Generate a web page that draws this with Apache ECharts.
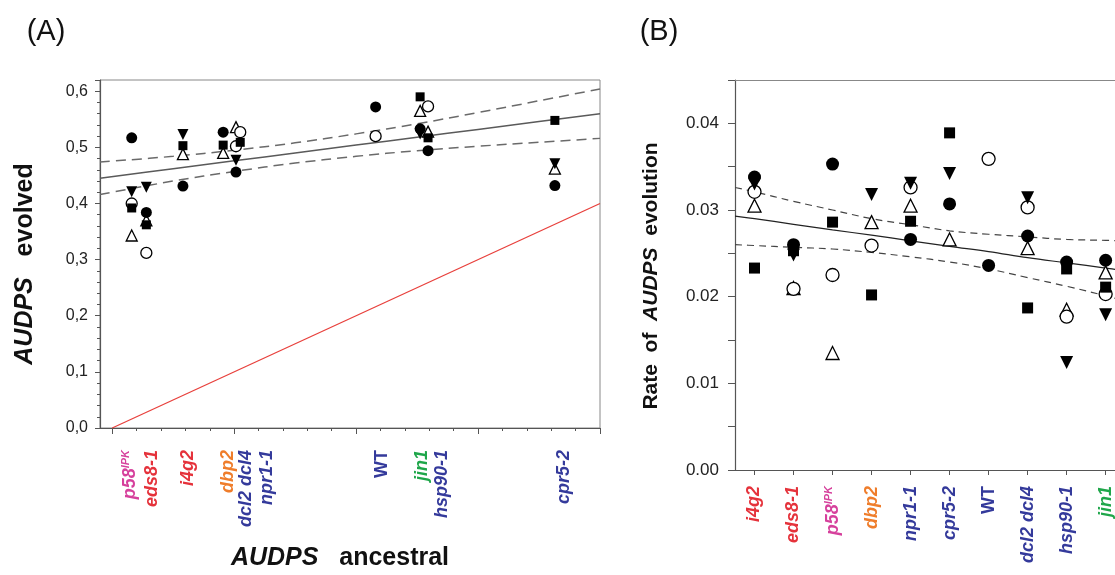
<!DOCTYPE html>
<html>
<head>
<meta charset="utf-8">
<script src="https://cdn.jsdelivr.net/npm/echarts@6/dist/echarts.min.js"></script>
<style>
  html, body { margin: 0; padding: 0; background: #fff; }
  #chart { width: 1115px; height: 575px; }
</style>
</head>
<body>
<div id="chart"></div>
<script>
// ---- Panel A: evolved vs ancestral AUDPS per genotype ----
const genotypes = ['p58IPK', 'eds8-1', 'i4g2', 'dbp2', 'dcl2 dcl4', 'npr1-1', 'WT', 'jin1', 'hsp90-1', 'cpr5-2'];
const ancestral = [0.016, 0.028, 0.058, 0.091, 0.1015, 0.105, 0.216, 0.2525, 0.259, 0.363];

// evolved AUDPS of the five evolved lineages (null = no visible mark)
const evolvedFilledCircle = [0.517, 0.384, 0.431, 0.527, 0.456, null, 0.572, 0.533, 0.494, 0.432];
const evolvedOpenCircle   = [0.400, 0.312, null, null, 0.502, 0.527, 0.520, null, 0.573, null];
const evolvedSquare       = [0.392, 0.362, 0.503, 0.504, null, 0.509, null, 0.590, 0.517, 0.548];
const evolvedTriDown      = [0.421, 0.429, 0.523, null, 0.477, null, null, 0.524, null, 0.471];
const evolvedTriUp        = [0.343, 0.370, 0.488, 0.490, 0.536, null, null, 0.565, 0.528, 0.462];

// regression line with 95% confidence band
const fitAX     = [-0.01, 0.05, 0.10, 0.15, 0.20, 0.25, 0.30, 0.35, 0.40];
const fitAMid   = [0.445, 0.462, 0.476, 0.490, 0.504, 0.518, 0.532, 0.546, 0.560];
const fitAUpper = [0.474, 0.484, 0.495, 0.508, 0.524, 0.542, 0.562, 0.583, 0.604];
const fitALower = [0.416, 0.440, 0.457, 0.472, 0.484, 0.494, 0.502, 0.509, 0.516];
// no-change reference (evolved = ancestral)
const equalityLine = [[0, 0], [0.4, 0.4]];

const yTicksA = [0, 0.1, 0.2, 0.3, 0.4, 0.5, 0.6];
const xMajorA = [0, 0.1, 0.2, 0.3, 0.4];
const xMinorA = [0.02, 0.04, 0.06, 0.08, 0.12, 0.14, 0.16, 0.18, 0.22, 0.24, 0.26, 0.28, 0.32, 0.34, 0.36, 0.38];

// ---- Panel B: rate of AUDPS evolution per genotype ----
const rateOrder = ['i4g2', 'eds8-1', 'p58IPK', 'dbp2', 'npr1-1', 'cpr5-2', 'WT', 'dcl2 dcl4', 'hsp90-1', 'jin1'];
const rateFilledCircle = [0.0338, 0.0260, 0.0353, null, 0.0266, 0.0307, 0.0236, 0.0270, 0.0240, 0.0242];
const rateOpenCircle   = [0.0321, 0.0209, 0.0225, 0.0259, 0.0326, null, 0.0359, 0.0303, 0.0177, 0.0203];
const rateSquare       = [0.0233, 0.0253, 0.0286, 0.0202, 0.0287, 0.0389, null, 0.0187, 0.0232, 0.0211];
const rateTriDown      = [0.0330, 0.0248, null, 0.0318, 0.0331, 0.0342, null, 0.0314, 0.0124, 0.0179];
const rateTriUp        = [0.0305, 0.0210, 0.0135, 0.0286, 0.0305, 0.0266, null, 0.0256, 0.0185, 0.0228];

const fitBX     = [-0.5, 0, 1, 2, 3, 4, 5, 6, 7, 8, 9, 9.5];
const fitBMid   = [0.0293, 0.0290, 0.02835, 0.0277, 0.0271, 0.02644, 0.0258, 0.0252, 0.0245, 0.0239, 0.0233, 0.0230];
const fitBUpper = [0.0326, 0.0321, 0.0310, 0.0300, 0.0290, 0.0283, 0.0276, 0.0272, 0.0269, 0.0266, 0.0265, 0.0264];
const fitBLower = [0.0260, 0.0259, 0.0257, 0.0255, 0.0251, 0.0246, 0.0240, 0.0232, 0.0222, 0.0212, 0.0201, 0.0195];

// ---- styling ----
const FONT = 'Liberation Sans, Arial, Helvetica, sans-serif';
const genoColour = {
  'p58IPK': '#d6409c', 'eds8-1': '#e5323b', 'i4g2': '#e5323b', 'dbp2': '#ef7d2b',
  'dcl2 dcl4': '#343a9b', 'npr1-1': '#343a9b', 'WT': '#343a9b', 'jin1': '#1fa64a',
  'hsp90-1': '#343a9b', 'cpr5-2': '#343a9b'
};
const genoKey = {
  'p58IPK': 'pk', 'eds8-1': 'r', 'i4g2': 'r', 'dbp2': 'o', 'dcl2 dcl4': 'b',
  'npr1-1': 'b', 'WT': 'wt', 'jin1': 'g', 'hsp90-1': 'b', 'cpr5-2': 'b'
};
// horizontal shift (px) of the genotype names under panel A
const labelShiftA = {
  'p58IPK': -2, 'eds8-1': 6, 'i4g2': 5, 'dbp2': 5, 'dcl2 dcl4': 10,
  'npr1-1': 27, 'WT': 6, 'jin1': 2, 'hsp90-1': 14, 'cpr5-2': 9
};

function genoText(name) {
  if (name === 'p58IPK') return '{pk|p58}{pks|IPK}';
  return '{' + genoKey[name] + '|' + name + '}';
}
function genoRich(colourProp) {
  const base = (c, italic) => ({
    [colourProp]: c, fontSize: 18, fontWeight: 'bold',
    fontStyle: italic ? 'italic' : 'normal', fontFamily: FONT
  });
  const sup = base(genoColour['p58IPK'], true);
  sup.fontSize = 11;
  sup.verticalAlign = 'top';
  return {
    r: base('#e5323b', true), pk: base('#d6409c', true), pks: sup,
    o: base('#ef7d2b', true), b: base('#343a9b', true), g: base('#1fa64a', true),
    wt: base('#343a9b', false)
  };
}

const markers = [
  { name: 'tri-up',  symbol: 'triangle', rot: 0,   fill: '#fff', A: evolvedTriUp,        B: rateTriUp,        sa: 11, sb: 13 },
  { name: 'open',    symbol: 'circle',   rot: 0,   fill: '#fff', A: evolvedOpenCircle,   B: rateOpenCircle,   sa: 11, sb: 13 },
  { name: 'square',  symbol: 'rect',     rot: 0,   fill: '#000', A: evolvedSquare,       B: rateSquare,       sa: 9,  sb: 11 },
  { name: 'tri-down',symbol: 'triangle', rot: 180, fill: '#000', A: evolvedTriDown,      B: rateTriDown,      sa: 11, sb: 13 },
  { name: 'filled',  symbol: 'circle',   rot: 0,   fill: '#000', A: evolvedFilledCircle, B: rateFilledCircle, sa: 11, sb: 13 }
];

const series = [];

// panel A lines
series.push({
  type: 'line', xAxisIndex: 0, yAxisIndex: 0, data: equalityLine, showSymbol: false, silent: true,
  lineStyle: { color: '#e8403c', width: 1.3 }, z: 1
});
[[fitAUpper, 'dashed'], [fitAMid, 'solid'], [fitALower, 'dashed']].forEach(([vals, kind]) => {
  series.push({
    type: 'line', xAxisIndex: 0, yAxisIndex: 0, showSymbol: false, silent: true, smooth: 0.4,
    data: fitAX.map((x, i) => [x, vals[i]]),
    lineStyle: { color: kind === 'solid' ? '#5a5a5a' : '#6a6a6a', width: 1.5, type: kind === 'solid' ? 'solid' : [10, 6] },
    z: 1
  });
});
// panel B lines
[[fitBUpper, 'dashed'], [fitBMid, 'solid'], [fitBLower, 'dashed']].forEach(([vals, kind]) => {
  series.push({
    type: 'line', xAxisIndex: 2, yAxisIndex: 1, showSymbol: false, silent: true, smooth: 0.4,
    data: fitBX.map((x, i) => [x, vals[i]]),
    lineStyle: { color: kind === 'solid' ? '#222' : '#444', width: 1.2, type: kind === 'solid' ? 'solid' : [7, 5] },
    z: 1
  });
});

markers.forEach(m => {
  const style = { color: m.fill, borderColor: '#000', borderWidth: m.fill === '#fff' ? 1.3 : 0, opacity: 1 };
  series.push({
    name: m.name, type: 'scatter', xAxisIndex: 0, yAxisIndex: 0,
    symbol: m.symbol, symbolRotate: m.rot, symbolSize: m.sa, itemStyle: style, z: 3,
    data: ancestral.map((x, i) => m.A[i] == null ? null : [x, m.A[i]]).filter(d => d)
  });
  series.push({
    name: m.name, type: 'scatter', xAxisIndex: 2, yAxisIndex: 1,
    symbol: m.symbol, symbolRotate: m.rot, symbolSize: m.sb, itemStyle: style, z: 3,
    data: rateOrder.map((g, i) => m.B[i] == null ? null : [i, m.B[i]]).filter(d => d)
  });
});

const axisGrey = '#555';
const option = {
  animation: false,
  backgroundColor: '#fff',
  textStyle: { fontFamily: FONT },
  grid: [
    { left: 100, top: 80, width: 500, height: 348, show: true, borderColor: '#888', borderWidth: 1 },
    // panel B runs on past the right edge of the page
    { left: 735, top: 80, right: 0, height: 390, show: false }
  ],
  xAxis: [
    {
      gridIndex: 0, type: 'value', min: -0.01, max: 0.4,
      axisLine: { show: true, onZero: false, lineStyle: { color: axisGrey, width: 1.2 } },
      axisTick: { show: true, customValues: xMajorA, length: 6, lineStyle: { color: axisGrey } },
      axisLabel: { show: false }, splitLine: { show: false }
    },
    {
      gridIndex: 0, type: 'value', min: -0.01, max: 0.4, position: 'bottom',
      axisLine: { show: false, onZero: false },
      axisTick: { show: true, customValues: xMinorA, length: 3, lineStyle: { color: axisGrey } },
      axisLabel: { show: false }, splitLine: { show: false }
    },
    {
      gridIndex: 1, type: 'value', min: -0.5, max: 9.24,
      axisLine: { show: true, onZero: false, lineStyle: { color: axisGrey, width: 1.2 } },
      axisTick: { show: true, customValues: rateOrder.map((g, i) => i), length: 5, lineStyle: { color: axisGrey } },
      axisLabel: {
        customValues: rateOrder.map((g, i) => i), rotate: 90, margin: 16,
        formatter: v => genoText(rateOrder[Math.round(v)]), rich: genoRich('color')
      },
      splitLine: { show: false }
    },
    {
      // top frame line of panel B
      gridIndex: 1, type: 'value', min: -0.5, max: 9.24, position: 'top',
      axisLine: { show: true, onZero: false, lineStyle: { color: '#888', width: 1 } },
      axisTick: { show: false }, axisLabel: { show: false }, splitLine: { show: false }
    }
  ],
  yAxis: [
    {
      gridIndex: 0, type: 'value', min: 0, max: 0.62, interval: 0.1,
      axisLine: { show: true, onZero: false, lineStyle: { color: axisGrey, width: 1.2 } },
      axisTick: { show: true, length: 5, lineStyle: { color: axisGrey } },
      minorTick: { show: true, splitNumber: 5, length: 3, lineStyle: { color: axisGrey } },
      axisLabel: {
        showMaxLabel: false, fontSize: 16, color: '#222', margin: 12,
        formatter: v => yTicksA.includes(Math.round(v * 10) / 10) ? v.toFixed(1).replace('.', ',') : ''
      },
      splitLine: { show: false }
    },
    {
      gridIndex: 1, type: 'value', min: 0, max: 0.045, interval: 0.01,
      axisLine: { show: true, onZero: false, lineStyle: { color: axisGrey, width: 1.2 } },
      axisTick: { show: true, length: 7, lineStyle: { color: axisGrey } },
      minorTick: { show: true, splitNumber: 2, length: 7, lineStyle: { color: axisGrey } },
      axisLabel: { showMaxLabel: false, fontSize: 17, color: '#222', margin: 16, formatter: v => v.toFixed(2) },
      splitLine: { show: false }
    }
  ],
  series: series
};

const chart = echarts.init(document.getElementById('chart'), null, { renderer: 'canvas' });
chart.setOption(option);

// titles and genotype names of panel A (placed at each genotype's ancestral value)
const richGraphic = genoRich('fill');
const graphics = [
  { type: 'text', x: 46, y: 32, style: { text: '(A)', fontSize: 29, fontFamily: FONT, fill: '#111', align: 'center', verticalAlign: 'middle' } },
  { type: 'text', x: 659, y: 32, style: { text: '(B)', fontSize: 29, fontFamily: FONT, fill: '#111', align: 'center', verticalAlign: 'middle' } },
  {
    type: 'text', x: 25, y: 264, rotation: Math.PI / 2,
    style: {
      text: '{i|AUDPS}{n|   evolved}', align: 'center', verticalAlign: 'middle',
      rich: {
        i: { fill: '#111', fontSize: 25, fontWeight: 'bold', fontStyle: 'italic', fontFamily: FONT },
        n: { fill: '#111', fontSize: 25, fontWeight: 'bold', fontFamily: FONT }
      }
    }
  },
  {
    type: 'text', x: 340, y: 558,
    style: {
      text: '{i|AUDPS}{n|   ancestral}', align: 'center', verticalAlign: 'middle',
      rich: {
        i: { fill: '#111', fontSize: 25, fontWeight: 'bold', fontStyle: 'italic', fontFamily: FONT },
        n: { fill: '#111', fontSize: 25, fontWeight: 'bold', fontFamily: FONT }
      }
    }
  },
  {
    type: 'text', x: 651, y: 276, rotation: Math.PI / 2,
    style: {
      text: '{n|Rate  of  }{i|AUDPS}{n|  evolution}', align: 'center', verticalAlign: 'middle',
      rich: {
        i: { fill: '#111', fontSize: 21, fontWeight: 'bold', fontStyle: 'italic', fontFamily: FONT },
        n: { fill: '#111', fontSize: 21, fontWeight: 'bold', fontFamily: FONT }
      }
    }
  }
];
genotypes.forEach((g, i) => {
  const p = chart.convertToPixel({ xAxisIndex: 0, yAxisIndex: 0 }, [ancestral[i], 0]);
  graphics.push({
    type: 'text', x: p[0] + labelShiftA[g], y: p[1] + 22, rotation: Math.PI / 2,
    style: { text: genoText(g), rich: richGraphic, align: 'right', verticalAlign: 'middle' }
  });
});
chart.setOption({ graphic: { elements: graphics } });
</script>
</body>
</html>
